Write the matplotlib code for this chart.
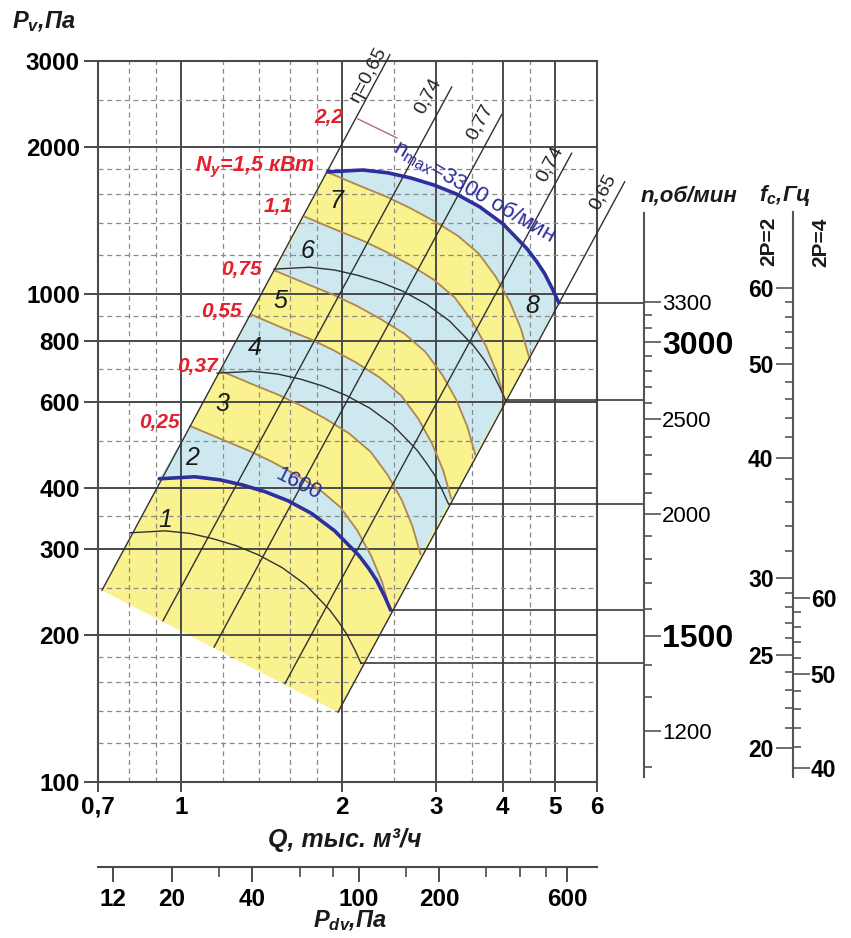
import matplotlib
matplotlib.use("Agg")
import matplotlib.pyplot as plt
from matplotlib.ticker import FixedLocator, NullFormatter

plt.rcParams['font.family'] = ['Liberation Sans', 'DejaVu Sans']
plt.rcParams['mathtext.fontset'] = 'custom'
plt.rcParams['mathtext.rm'] = 'Liberation Sans'
plt.rcParams['mathtext.it'] = 'Liberation Sans:italic'
plt.rcParams['mathtext.bf'] = 'Liberation Sans:bold'

# ---- data (Q in thousand m3/h, Pv in Pa) ----
# speed curves
q_n3300 = [1.88, 2.19, 2.44, 2.69, 2.97, 3.27, 3.62, 4.00, 4.44, 4.63, 4.79, 4.96, 5.09]
p_n3300 = [1778, 1794, 1770, 1728, 1672, 1603, 1508, 1392, 1237, 1164, 1100, 1020, 959]
q_n2600 = [1.495, 1.741, 1.940, 2.139, 2.361, 2.600, 2.878, 3.180, 3.530, 3.681, 3.808, 3.943, 4.047]
p_n2600 = [1124, 1134, 1119, 1092, 1057, 1013, 953, 880, 782, 736, 695, 645, 606]
q_n2000 = [1.169, 1.362, 1.518, 1.673, 1.847, 2.034, 2.252, 2.488, 2.762, 2.880, 2.979, 3.085, 3.166]
p_n2000 = [688, 694, 685, 669, 647, 620, 584, 539, 479, 450, 426, 395, 371]
q_n1600 = [0.911, 1.062, 1.183, 1.304, 1.440, 1.585, 1.755, 1.939, 2.153, 2.245, 2.322, 2.405, 2.468]
p_n1600 = [418, 422, 416, 406, 393, 377, 355, 327, 291, 274, 259, 240, 225]
q_n1400 = [0.803, 0.935, 1.042, 1.149, 1.268, 1.396, 1.546, 1.708, 1.896, 1.977, 2.045, 2.118, 2.173]
p_n1400 = [324, 327, 323, 315, 305, 292, 275, 254, 225.5, 212, 200.5, 186, 175]

# motor power boundaries, kW
q_N150 = [1.892, 2.163, 2.429, 2.681, 2.973, 3.297, 3.609, 3.883, 4.123, 4.323, 4.475]
p_N150 = [1770, 1664, 1580, 1500, 1411, 1315, 1208, 1083, 963, 849, 744]
q_N110 = [1.706, 1.950, 2.190, 2.418, 2.681, 2.973, 3.254, 3.501, 3.718, 3.898, 4.035]
p_N110 = [1439, 1353, 1285, 1220, 1147, 1069, 982, 881, 783, 690, 605]
q_N075 = [1.502, 1.717, 1.928, 2.129, 2.360, 2.617, 2.865, 3.082, 3.273, 3.432, 3.552]
p_N075 = [1115, 1049, 996, 946, 889, 829, 761, 683, 607, 535, 469]
q_N055 = [1.354, 1.548, 1.738, 1.919, 2.128, 2.360, 2.583, 2.779, 2.951, 3.094, 3.203]
p_N055 = [907, 852, 810, 769, 723, 673, 619, 555, 493, 435, 381]
q_N037 = [1.186, 1.356, 1.523, 1.681, 1.864, 2.067, 2.263, 2.435, 2.586, 2.711, 2.806]
p_N037 = [696, 654, 621, 590, 555, 517, 475, 426, 379, 334, 293]
q_N025 = [1.041, 1.190, 1.336, 1.475, 1.636, 1.814, 1.985, 2.136, 2.268, 2.378, 2.462]
p_N025 = [536, 504, 478, 454, 427, 398, 366, 328, 291, 257, 225]

# efficiency lines (bottom end, top end)
eta_labels = ['η=0,65', '0,74', '0,77', '0,74', '0,65']
eta_q = [[0.712, 2.46], [0.926, 3.21], [1.154, 3.98], [1.565, 5.38], [1.967, 6.76]]
eta_p = [[247, 3090], [214, 2654], [189, 2330], [159, 1942], [139, 1697]]
eta_label_q = [2.247, 2.897, 3.623, 4.897, 6.15]
eta_label_p = [2821, 2544, 2250, 1847, 1619]

# lower cut of the field
corner_bl = (0.712, 247)
corner_br = (1.967, 139)

# power labels
power_labels = ['2,2', '1,1', '0,75', '0,55', '0,37', '0,25']
power_label_q = [1.891, 1.620, 1.418, 1.301, 1.174, 0.996]
power_label_p = [2294, 1508, 1121, 920, 710, 545]
q_22 = [2.143, 2.535]
p_22 = [2283, 2087]

zone_labels = ['1', '2', '3', '4', '5', '6', '7', '8']
zone_q = [0.934, 1.049, 1.194, 1.376, 1.532, 1.728, 1.957, 4.55]
zone_p = [344, 462, 596, 773, 968, 1226, 1551, 946]

# axes ticks
q_major = [0.7, 1, 2, 3, 4, 5, 6]
q_major_lbl = ['0,7', '1', '2', '3', '4', '5', '6']
q_minor = [0.8, 0.9, 1.2, 1.4, 1.6, 1.8, 2.5, 3.5, 4.5]
p_major = [100, 200, 300, 400, 600, 800, 1000, 2000, 3000]
p_minor = [120, 140, 160, 180, 250, 350, 500, 700, 900, 1200, 1400, 1600, 1800, 2500]
n_labels = [1200, 1500, 2000, 2500, 3000, 3300]
n_minor = [1100, 1300, 1400, 1600, 1700, 1800, 1900, 2100, 2200, 2300, 2400,
           2600, 2700, 2800, 2900, 3100, 3200]
f2_labels = [20, 25, 30, 40, 50, 60]
f2_minor = [21, 22, 23, 24, 26, 27, 28, 29, 32, 34, 36, 38, 42, 44, 46, 48,
            52, 54, 56, 58]
f4_labels = [40, 50, 60]
f4_minor = [42, 44, 46, 48, 52, 54, 56, 58]
pdv_major = [12, 20, 40, 100, 200, 600]
pdv_minor = [30, 60, 80, 150, 300, 400, 500]

YELLOW = '#faf28e'
LBLUE = '#cde9ef'
TAN = '#ae8650'
DARK = '#303030'
BLUE = '#2e2e9c'
RED = '#e3202b'
GRID = '#4a4a4a'
SCALE = '#555555'
INK = '#1a1a1a'

W, H = 851, 938
fig = plt.figure(figsize=(W / 100, H / 100), dpi=100)
ax_rect = [98 / W, 1 - 782 / H, 499 / W, 721 / H]
ax = fig.add_axes(ax_rect)
ax.set_xscale('log')
ax.set_yscale('log')
ax.set_xlim(0.7, 6)
ax.set_ylim(100, 3000)

# grid
ax.xaxis.set_major_locator(FixedLocator(q_major))
ax.xaxis.set_minor_locator(FixedLocator(q_minor))
ax.yaxis.set_major_locator(FixedLocator(p_major))
ax.yaxis.set_minor_locator(FixedLocator(p_minor))
ax.set_xticklabels(q_major_lbl)
ax.set_yticklabels([str(v) for v in p_major])
ax.xaxis.set_minor_formatter(NullFormatter())
ax.yaxis.set_minor_formatter(NullFormatter())
ax.set_axisbelow(False)
ax.grid(which='major', color=GRID, lw=1.4, ls='-', zorder=2)
ax.grid(which='minor', color='#8a8a8a', lw=0.9, ls=(0, (4, 3)), zorder=2)
ax.tick_params(which='minor', length=0)
ax.tick_params(axis='y', which='major', length=10, width=1.4, color=GRID, pad=3,
               labelsize=17.5)
ax.tick_params(axis='x', which='major', length=7, width=1.4, color=GRID, pad=3,
               labelsize=17.5)
for lbl in ax.get_xticklabels() + ax.get_yticklabels():
    lbl.set_fontweight('bold')
for sp in ax.spines.values():
    sp.set_color(GRID)
    sp.set_linewidth(1.5)

# colored field
field_q = [corner_bl[0]] + q_n3300 + [corner_br[0]]
field_p = [corner_bl[1]] + p_n3300 + [corner_br[1]]
ax.fill(field_q, field_p, color=YELLOW, lw=0, zorder=1)
blue_bands = [
    (q_n3300, p_n3300, q_N150, p_N150),
    (q_N110, p_N110, q_N075, p_N075),
    (q_N055, p_N055, q_N037, p_N037),
    (q_N025, p_N025, q_n1600, p_n1600),
]
for qa, pa, qb, pb in blue_bands:
    ax.fill(qa + qb[::-1], pa + pb[::-1], color=LBLUE, lw=0, zorder=1.2)

# power boundaries
for q, p in [(q_N150, p_N150), (q_N110, p_N110), (q_N075, p_N075),
             (q_N055, p_N055), (q_N037, p_N037), (q_N025, p_N025)]:
    ax.plot(q, p, color=TAN, lw=1.3, zorder=3)

# thin speed curves
for q, p in [(q_n2600, p_n2600), (q_n2000, p_n2000), (q_n1400, p_n1400)]:
    ax.plot(q, p, color=DARK, lw=1.0, zorder=3.2)

# efficiency lines
for q, p in zip(eta_q, eta_p):
    ax.plot(q, p, color=DARK, lw=1.0, zorder=3.3, clip_on=False)
for lbl, q, p in zip(eta_labels, eta_label_q, eta_label_p):
    ax.text(q, p, lbl, rotation=62, rotation_mode='anchor', ha='center', va='center',
            fontsize=14, color='#222222', zorder=5)

# main speed curves
ax.plot(q_n3300, p_n3300, color=BLUE, lw=2.6, zorder=4, solid_capstyle='round')
ax.plot(q_n1600, p_n1600, color=BLUE, lw=2.6, zorder=4, solid_capstyle='round')

# leaders to the n scale
Q_AT_N_AXIS = 7.32
for q, p in [(q_n3300, p_n3300), (q_n2600, p_n2600), (q_n2000, p_n2000),
             (q_n1600, p_n1600), (q_n1400, p_n1400)]:
    ax.plot([q[-1], Q_AT_N_AXIS], [p[-1], p[-1]], color='#3a3a3a', lw=1.2,
            clip_on=False, zorder=3)

# 2,2 marker line
ax.plot(q_22, p_22, color='#b06a8a', lw=1.0, zorder=3.5)

# labels in the field
for lbl, q, p in zip(power_labels, power_label_q, power_label_p):
    ha = 'center' if lbl == '2,2' else 'right'
    ax.text(q, p, lbl, color=RED, fontsize=15, fontweight='bold', fontstyle='italic',
            ha=ha, va='center', zorder=5)
ax.text(1.781, 1812, r'$\mathregular{N_y}$=1,5 кВт', color=RED, fontsize=15.5,
        fontweight='bold', fontstyle='italic', ha='right', va='center', zorder=5)
for lbl, q, p in zip(zone_labels, zone_q, zone_p):
    ax.text(q, p, lbl, fontsize=18, fontstyle='italic', ha='center', va='center',
            color=INK, zorder=5)
ax.text(1.66, 408, '1600', color=BLUE, fontsize=15.5, rotation=-27, ha='center',
        va='center', zorder=5)
ax.text(3.54, 1625, r'$\mathregular{n_{max}}$=3300 об/мин', color=BLUE, fontsize=16,
        rotation=-30, ha='center', va='center', zorder=5)

# axis titles
fig.text(12 / W, 1 - 22 / H, r'$\mathregular{P_v}$,Па', fontsize=17, fontweight='bold',
         fontstyle='italic', ha='left', va='center', color=INK)
fig.text(345 / W, 1 - 840 / H, 'Q, тыс. м³/ч', fontsize=18, fontweight='bold',
         fontstyle='italic', ha='center', va='center', color=INK)
fig.text(350 / W, 1 - 921 / H, r'$\mathregular{P_{dv}}$,Па', fontsize=17,
         fontweight='bold', fontstyle='italic', ha='center', va='center', color=INK)
fig.text(689 / W, 1 - 196 / H, 'n,об/мин', fontsize=16, fontweight='bold',
         fontstyle='italic', ha='center', va='center', color=INK)
fig.text(785 / W, 1 - 196 / H, r'$\mathregular{f_c}$,Гц', fontsize=16, fontweight='bold',
         fontstyle='italic', ha='center', va='center', color=INK)
fig.text(769 / W, 1 - 241 / H, '2P=2', fontsize=15, fontweight='bold', rotation=90,
         ha='center', va='center', color=INK)
fig.text(821 / W, 1 - 242 / H, '2P=4', fontsize=15, fontweight='bold', rotation=90,
         ha='center', va='center', color=INK)

# dynamic pressure scale
ax_p = fig.add_axes([98 / W, 1 - 867 / H, 499 / W, 0.0005])
ax_p.set_xscale('log')
ax_p.set_xlim(10.58, 777.6)
ax_p.patch.set_visible(False)
ax_p.yaxis.set_visible(False)
for k in ['left', 'right', 'top']:
    ax_p.spines[k].set_visible(False)
ax_p.spines['bottom'].set_color(GRID)
ax_p.spines['bottom'].set_linewidth(1.5)
ax_p.xaxis.set_major_locator(FixedLocator(pdv_major))
ax_p.xaxis.set_minor_locator(FixedLocator(pdv_minor))
ax_p.set_xticklabels([str(v) for v in pdv_major])
ax_p.xaxis.set_minor_formatter(NullFormatter())
ax_p.tick_params(which='major', length=11, width=1.4, color=GRID, pad=4, labelsize=17.5)
ax_p.tick_params(which='minor', length=7, width=1.2, color=GRID)
for lbl in ax_p.get_xticklabels():
    lbl.set_fontweight('bold')


def side_scale(rect, lims, side, major, minor, labelsize, spine_bounds=None, pad=2):
    a = fig.add_axes(rect)
    a.set_yscale('log')
    a.set_ylim(*lims)
    a.patch.set_visible(False)
    a.xaxis.set_visible(False)
    for sp in a.spines.values():
        sp.set_visible(False)
    if spine_bounds is not None:
        a.spines[side].set_visible(True)
        a.spines[side].set_bounds(*spine_bounds)
        a.spines[side].set_color(SCALE)
        a.spines[side].set_linewidth(1.5)
    if side == 'right':
        a.yaxis.tick_right()
    else:
        a.yaxis.tick_left()
    a.yaxis.set_major_locator(FixedLocator(major))
    a.yaxis.set_minor_locator(FixedLocator(minor))
    a.set_yticklabels([str(v) for v in major])
    a.yaxis.set_minor_formatter(NullFormatter())
    a.tick_params(which='major', length=12, width=1.2, color=SCALE, pad=pad,
                  labelsize=labelsize)
    a.tick_params(which='minor', length=6, width=1.2, color=SCALE)
    return a


# speed scale
ax_n = side_scale([644 / W, ax_rect[1], 0.0005, ax_rect[3]], (1063, 5822), 'right',
                  n_labels, n_minor, 16, spine_bounds=(1076, 4070), pad=0.5)
for lbl, v in zip(ax_n.get_yticklabels(), n_labels):
    if v in (1500, 3000):
        lbl.set_fontsize(23)
        lbl.set_fontweight('bold')

# supply frequency scales
ax_f2 = side_scale([793 / W, ax_rect[1], 0.0005, ax_rect[3]], (18.45, 103.2), 'left',
                   f2_labels, f2_minor, 16.5, spine_bounds=(18.66, 71.9))
ax_f4 = side_scale([793 / W, ax_rect[1], 0.0005, ax_rect[3]], (38.67, 216.3), 'right',
                   f4_labels, f4_minor, 16.5, pad=0.5)
for lbl in ax_f2.get_yticklabels() + ax_f4.get_yticklabels():
    lbl.set_fontweight('bold')

fig.savefig('out.png', dpi=100)
